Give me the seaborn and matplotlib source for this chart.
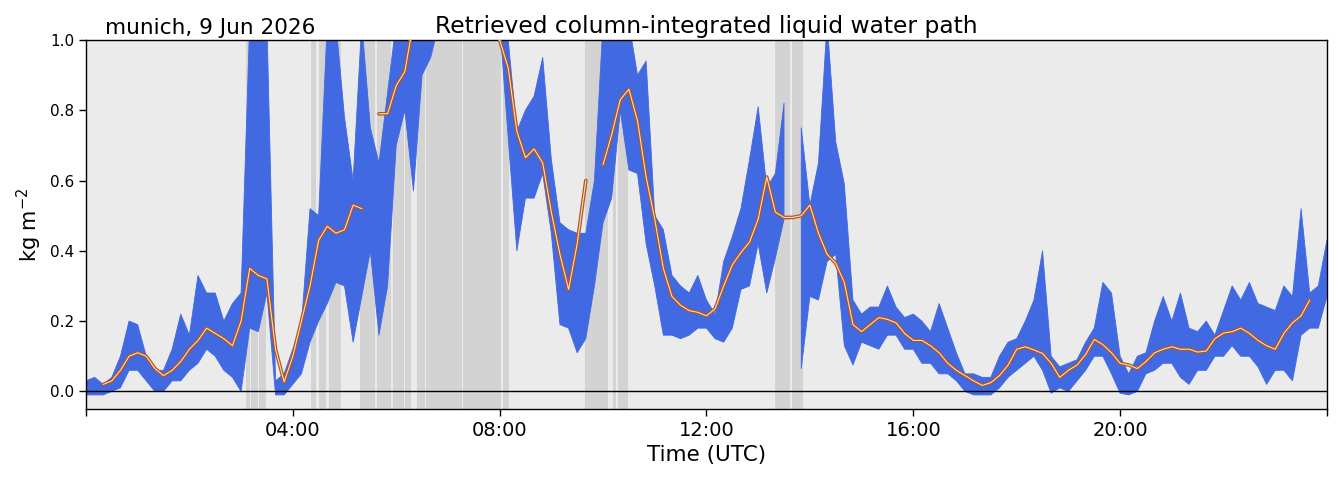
import numpy as np
import pandas as pd
import matplotlib
matplotlib.use("Agg")
import matplotlib.pyplot as plt
import matplotlib.patheffects as pe
import seaborn as sns

sns.set_style("white")
plt.rcParams['font.family'] = ['DejaVu Sans']
plt.rcParams.update({"text.color": "black", "axes.labelcolor": "black",
                     "xtick.color": "black", "ytick.color": "black"})

nan = np.nan

# LWP on a 10-minute grid (00:00 ... 24:00)
lwp_smooth = [
    nan, nan, 0.02, 0.03, 0.06, 0.10, 0.11, 0.10, 0.065, 0.045, 0.06, 0.085, 0.12,
    0.145, 0.18, 0.165, 0.15, 0.13, 0.20, 0.35, 0.33, 0.32, 0.12, 0.027, 0.10,
    0.20, 0.30, 0.43, 0.47, 0.45, 0.46, 0.53, 0.52, nan, 0.79, 0.79, 0.87,
    0.91, 1.05, 1.05, 1.05, 1.05, 1.05, 1.05, 1.05, 1.05, 1.05, 1.05, 1.0,
    0.92, 0.74, 0.665, 0.69, 0.65, 0.51, 0.39, 0.29, 0.42, 0.60, nan, 0.645,
    0.73, 0.83, 0.86, 0.77, 0.61, 0.49, 0.35, 0.27, 0.245, 0.23, 0.225, 0.215,
    0.235, 0.30, 0.36, 0.395, 0.425, 0.49, 0.61, 0.51, 0.495, 0.495, 0.50, 0.53,
    0.45, 0.39, 0.365, 0.31, 0.19, 0.17, 0.19, 0.21, 0.205, 0.195, 0.165, 0.145,
    0.145, 0.13, 0.11, 0.08, 0.06, 0.045, 0.03, 0.017, 0.025, 0.045, 0.075, 0.12,
    0.127, 0.118, 0.108, 0.08, 0.04, 0.06, 0.075, 0.105, 0.148, 0.133, 0.11, 0.08,
    0.075, 0.065, 0.085, 0.11, 0.12, 0.127, 0.12, 0.12, 0.112, 0.115, 0.15, 0.166,
    0.17, 0.18, 0.165, 0.145, 0.13, 0.12, 0.165, 0.195, 0.215, 0.26, nan, nan,
]

lwp_low = [
    -0.01, -0.01, -0.01, 0.0, 0.01, 0.06, 0.06, 0.03, 0.0, 0.0, 0.03, 0.03, 0.06,
    0.08, 0.12, 0.10, 0.06, 0.04, 0.0, 0.18, 0.17, 0.28, -0.01, -0.01, 0.02,
    0.05, 0.14, 0.20, 0.25, 0.31, 0.30, 0.14, 0.27, 0.40, 0.16, 0.30, 0.70,
    0.80, 0.57, 0.90, 0.95, 1.05, 1.05, 1.05, 1.05, 1.05, 1.05, 1.05, 1.05,
    0.72, 0.40, 0.55, 0.55, 0.62, 0.45, 0.19, 0.18, 0.11, 0.15, 0.30, 0.48,
    0.55, 0.80, 0.63, 0.62, 0.42, 0.30, 0.16, 0.16, 0.15, 0.16, 0.18, 0.18,
    0.15, 0.14, 0.18, 0.29, 0.30, 0.42, 0.28, 0.38, 0.49, nan, 0.065, 0.27,
    0.26, 0.37, 0.39, 0.13, 0.075, 0.14, 0.13, 0.12, 0.16, 0.16, 0.12, 0.12,
    0.08, 0.08, 0.05, 0.05, 0.03, 0.0, -0.01, -0.01, -0.01, 0.01, 0.04, 0.06,
    0.08, 0.10, 0.06, -0.005, 0.01, 0.0, 0.03, 0.06, 0.10, 0.10, 0.05, -0.005,
    -0.01, 0.0, 0.05, 0.06, 0.08, 0.08, 0.04, 0.02, 0.06, 0.06, 0.10, 0.10,
    0.13, 0.10, 0.10, 0.07, 0.02, 0.06, 0.06, 0.03, 0.16, 0.18, 0.18, 0.27,
]

lwp_high = [
    0.03, 0.04, 0.02, 0.04, 0.10, 0.20, 0.19, 0.10, 0.06, 0.06, 0.12, 0.22, 0.16,
    0.33, 0.28, 0.28, 0.20, 0.25, 0.28, 1.05, 1.05, 1.05, 0.03, 0.05, 0.12,
    0.19, 0.52, 0.50, 1.05, 1.05, 0.78, 0.60, 1.05, 0.75, 0.65, 0.85, 1.05,
    1.05, 1.05, 1.05, 1.05, 1.1, 1.1, 1.1, 1.1, 1.1, 1.1, 1.1, 1.1,
    1.0, 0.74, 0.80, 0.84, 0.95, 0.66, 0.48, 0.46, 0.45, 0.45, 0.60, 1.05,
    1.05, 1.05, 1.05, 0.90, 0.94, 0.50, 0.46, 0.33, 0.30, 0.28, 0.33, 0.26,
    0.22, 0.37, 0.44, 0.52, 0.66, 0.81, 0.58, 0.62, 0.82, nan, 0.75, 0.53,
    0.65, 1.05, 0.71, 0.59, 0.26, 0.22, 0.24, 0.24, 0.30, 0.24, 0.21, 0.22,
    0.20, 0.17, 0.25, 0.18, 0.11, 0.05, 0.05, 0.04, 0.04, 0.10, 0.14, 0.15,
    0.20, 0.26, 0.40, 0.10, 0.07, 0.08, 0.09, 0.14, 0.18, 0.31, 0.28, 0.10,
    0.05, 0.10, 0.11, 0.20, 0.27, 0.20, 0.28, 0.18, 0.17, 0.20, 0.16, 0.23,
    0.30, 0.26, 0.31, 0.25, 0.24, 0.23, 0.30, 0.27, 0.52, 0.28, 0.30, 0.43,
]

# rain / quality flag periods (hours UTC)
flag_start = [3.09, 3.19, 3.35, 4.35, 4.50, 4.70, 5.30, 5.63, 5.94, 6.02, 6.17,
              6.41, 6.58, 7.29, 8.06, 8.425, 9.65, 10.19, 10.29, 13.32, 13.65, 16.49]
flag_end = [3.17, 3.33, 3.48, 4.45, 4.65, 4.94, 5.59, 5.90, 6.01, 6.15, 6.29,
            6.56, 7.27, 8.03, 8.18, 8.44, 10.09, 10.26, 10.49, 13.61, 13.86, 16.505]

hours = np.arange(len(lwp_smooth)) / 6.0
df = pd.DataFrame({"hour": hours, "lwp": lwp_smooth, "low": lwp_low, "high": lwp_high})
df["seg"] = df["lwp"].isna().cumsum()

fig = plt.figure(figsize=(13.39, 4.78), dpi=100)
ax = fig.add_axes([0.0642, 0.1444, 0.9268, 0.772])
ax.set_facecolor("#ebebeb")

for s, e in zip(flag_start, flag_end):
    ax.axvspan(s, e, color="#d3d3d3", lw=0, zorder=0)

ax.fill_between(df["hour"], df["low"], df["high"], color="royalblue",
                edgecolor="royalblue", lw=0.6, zorder=2)

ax.axhline(0, color="black", lw=1, zorder=3)

sns.lineplot(data=df.dropna(subset=["lwp"]), x="hour", y="lwp", units="seg",
             estimator=None, color="#f9dcc0", lw=0.8, ax=ax, zorder=4,
             path_effects=[pe.Stroke(linewidth=2.6, foreground="#b3561d"), pe.Normal()])

ax.set_xlim(0, 24)
ax.set_ylim(-0.05, 1.0)
ax.set_xticks([0, 4, 8, 12, 16, 20, 24])
ax.set_xticklabels(["", "04:00", "08:00", "12:00", "16:00", "20:00", ""], fontsize=14)
ax.set_yticks([0.0, 0.2, 0.4, 0.6, 0.8, 1.0])
ax.set_yticklabels(["0.0", "0.2", "0.4", "0.6", "0.8", "1.0"], fontsize=11)
ax.tick_params(axis="both", direction="out", length=5, width=1, left=True, bottom=True)
for sp in ax.spines.values():
    sp.set_color("black")
    sp.set_linewidth(1)

ax.set_xlabel("Time (UTC)", fontsize=15.5)
ax.set_ylabel("kg m$^{-2}$", fontsize=15)
ax.set_title("Retrieved column-integrated liquid water path", fontsize=16.8, pad=5)
ax.text(0.015, 1.005, "munich, 9 Jun 2026", transform=ax.transAxes,
        fontsize=15.6, ha="left", va="bottom")

fig.savefig("out.png", dpi=100)
